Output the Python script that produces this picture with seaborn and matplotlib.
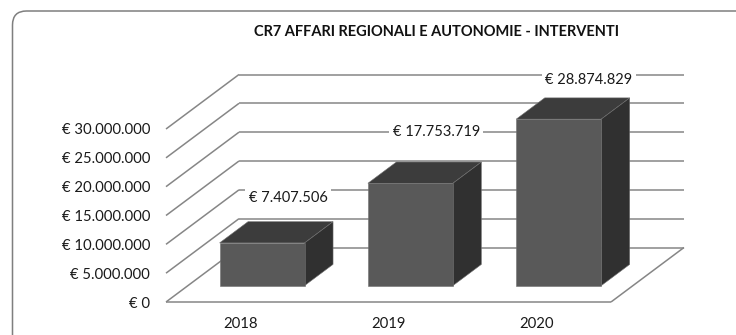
import matplotlib
matplotlib.use("Agg")
import matplotlib.pyplot as plt
from matplotlib.patches import FancyBboxPatch, Polygon
from matplotlib.transforms import IdentityTransform
from matplotlib.ticker import FuncFormatter
import seaborn as sns
import pandas as pd

years = ["2018", "2019", "2020"]
amounts = [7407506, 17753719, 28874829]
value_labels = ["€ 7.407.506", "€ 17.753.719", "€ 28.874.829"]
title = "CR7 AFFARI REGIONALI E AUTONOMIE - INTERVENTI"
y_ticks = [0, 5000000, 10000000, 15000000, 20000000, 25000000, 30000000]

sns.set_theme(style="white")
plt.rcParams["font.family"] = ["Lato", "DejaVu Sans"]

W, H = 736, 335
fig = plt.figure(figsize=(W / 100, H / 100), dpi=100, facecolor="white")

# Front plane of the pseudo-3D box, in pixels
L, R, BOT, TOP = 166, 611, 302, 129
ax = fig.add_axes([L / W, 1 - BOT / H, (R - L) / W, (BOT - TOP) / H])

df = pd.DataFrame({"year": years, "amount": amounts})
sns.barplot(data=df, x="year", y="amount", ax=ax, color="#595959",
            saturation=1, width=0.573, zorder=5)
ax.set_xlim(-0.5, 2.5)
ax.set_ylim(0, 30000000)
ax.patch.set_alpha(0)
for s in ax.spines.values():
    s.set_visible(False)
ax.set_xlabel("")
ax.set_ylabel("")
ax.set_yticks(y_ticks)
ax.yaxis.set_major_formatter(FuncFormatter(lambda v, _: "€ " + f"{int(v):,}".replace(",", ".")))
ax.tick_params(axis="y", length=0, pad=11.5, labelsize=10.7, labelcolor="#1a1a1a")
ax.tick_params(axis="x", length=0, pad=10.5, labelsize=10.7, labelcolor="#1a1a1a")

# Pixel -> data unit conversions for the oblique depth direction
px_x = 3 / (R - L)
px_y = 30000000 / (BOT - TOP)
DX = 73 * px_x
DY = 54.5 * px_y

GRID = "#868686"
x0, x1 = -0.5, 2.5
line_kw = dict(color=GRID, lw=1.1, clip_on=False, zorder=1, solid_capstyle="butt")
for v in y_ticks:
    ax.plot([x0, x0 + DX], [v, v + DY], **line_kw)
    ax.plot([x0 + DX, x1 + DX], [v + DY, v + DY], **line_kw)
ax.plot([x0, x1], [0, 0], **line_kw)
ax.plot([x1, x1 + DX], [0, DY], **line_kw)

# Bars: shift the front face into the box and add side and top faces
START, DEPTH = 0.30, 0.39
sx, sy = START * DX, START * DY
bx, by = DEPTH * DX, DEPTH * DY
EDGE = "#707070"
label_offsets = [(10, 32.5), (10, 36.6), (13, 28.2)]
for bar, text, off in zip(ax.patches, value_labels, label_offsets):
    bar.set_x(bar.get_x() + sx)
    bar.set_y(bar.get_y() + sy)
    bar.set_clip_on(False)
    bar.set_edgecolor(EDGE)
    bar.set_linewidth(0.4)
    xa, xb = bar.get_x(), bar.get_x() + bar.get_width()
    ya, yb = bar.get_y(), bar.get_y() + bar.get_height()
    ax.add_patch(Polygon([(xa, yb), (xb, yb), (xb + bx, yb + by), (xa + bx, yb + by)],
                         closed=True, fc="#3c3c3c", ec=EDGE, lw=0.4, clip_on=False, zorder=4))
    ax.add_patch(Polygon([(xb, ya), (xb + bx, ya + by), (xb + bx, yb + by), (xb, yb)],
                         closed=True, fc="#303030", ec=EDGE, lw=0.4, clip_on=False, zorder=4))
    ax.annotate(text, xy=((xa + xb) / 2 + bx / 2 - 0.015, yb), xytext=off,
                textcoords="offset points", ha="center", va="center",
                fontsize=10.5, color="#1a1a1a", zorder=6, annotation_clip=False,
                bbox=dict(fc="white", ec="none", pad=2.5))

fig.text(436 / W, 1 - 32 / H, title, ha="center", va="center",
         fontsize=10.55, fontweight="bold", color="#111111")

# Rounded chart frame, running off the right and bottom of the image
frame = FancyBboxPatch((12.5, -60), W + 60, H - 11 + 60,
                       boxstyle="round,pad=0,rounding_size=14",
                       transform=IdentityTransform(), fc="none", ec="#7f7f7f", lw=1.1)
fig.add_artist(frame)

fig.savefig("out.png", dpi=100)
